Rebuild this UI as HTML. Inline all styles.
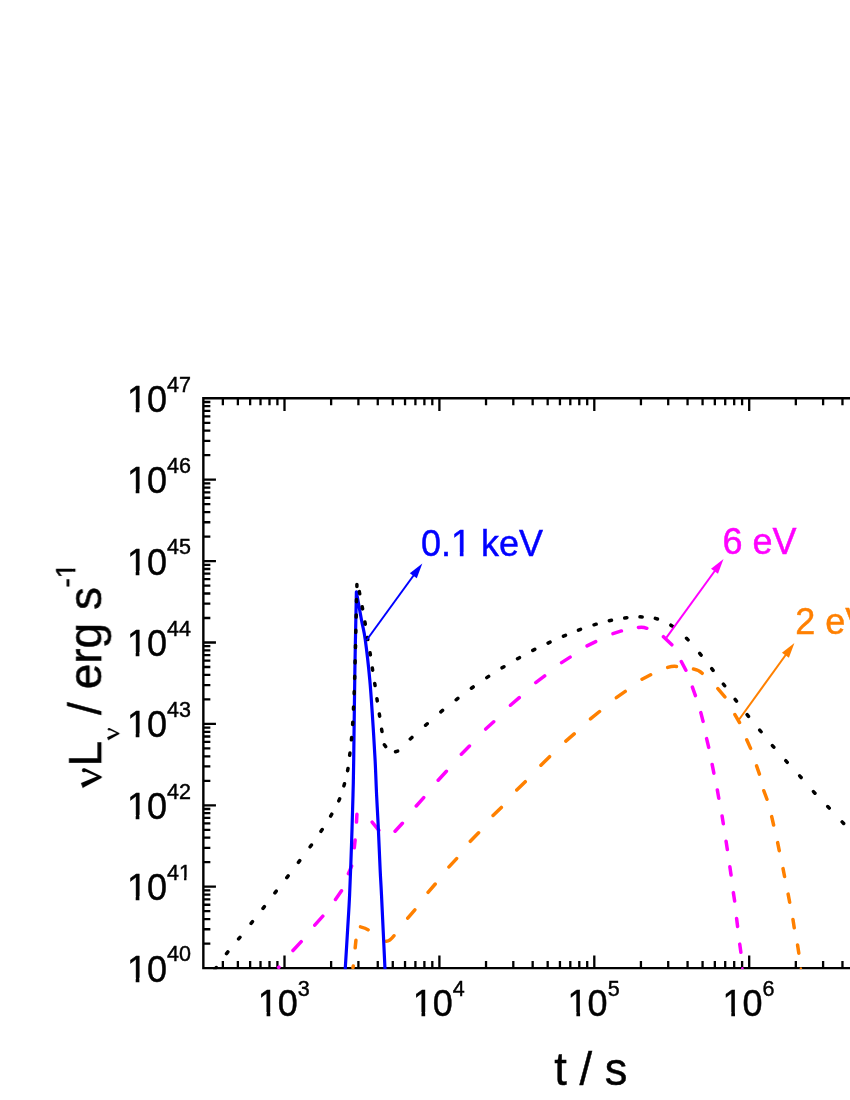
<!DOCTYPE html>
<html><head><meta charset="utf-8"><title>chart</title><style>html,body{margin:0;padding:0;background:#fff;width:850px;height:1100px;overflow:hidden}svg{display:block;position:absolute;left:0;top:0}</style></head><body>
<svg width="850" height="1100" viewBox="0 0 850 1100">
<rect width="850" height="1100" fill="#fff"/>
<g stroke="#000" fill="none" stroke-linecap="butt">
<path stroke-width="2.4" d="M202.15 398.3H855 M202.15 968.1H855 M203.35 397.1V969.3"/>
<path stroke-width="2.3" d="M222.86 968.1v-7M222.86 398.3v7M237.87 968.1v-7M237.87 398.3v7M250.14 968.1v-7M250.14 398.3v7M260.51 968.1v-7M260.51 398.3v7M269.49 968.1v-7M269.49 398.3v7M277.41 968.1v-7M277.41 398.3v7M284.5 968.1v-12.6M284.5 398.3v12.6M331.13 968.1v-7M331.13 398.3v7M358.41 968.1v-7M358.41 398.3v7M377.76 968.1v-7M377.76 398.3v7M392.77 968.1v-7M392.77 398.3v7M405.04 968.1v-7M405.04 398.3v7M415.41 968.1v-7M415.41 398.3v7M424.39 968.1v-7M424.39 398.3v7M432.31 968.1v-7M432.31 398.3v7M439.4 968.1v-12.6M439.4 398.3v12.6M486.03 968.1v-7M486.03 398.3v7M513.31 968.1v-7M513.31 398.3v7M532.66 968.1v-7M532.66 398.3v7M547.67 968.1v-7M547.67 398.3v7M559.94 968.1v-7M559.94 398.3v7M570.31 968.1v-7M570.31 398.3v7M579.29 968.1v-7M579.29 398.3v7M587.21 968.1v-7M587.21 398.3v7M594.3 968.1v-12.6M594.3 398.3v12.6M640.93 968.1v-7M640.93 398.3v7M668.21 968.1v-7M668.21 398.3v7M687.56 968.1v-7M687.56 398.3v7M702.57 968.1v-7M702.57 398.3v7M714.84 968.1v-7M714.84 398.3v7M725.21 968.1v-7M725.21 398.3v7M734.19 968.1v-7M734.19 398.3v7M742.11 968.1v-7M742.11 398.3v7M749.2 968.1v-12.6M749.2 398.3v12.6M795.83 968.1v-7M795.83 398.3v7M823.11 968.1v-7M823.11 398.3v7M842.46 968.1v-7M842.46 398.3v7M203.35 455.2h7M203.35 440.86h7M203.35 430.69h7M203.35 422.8h7M203.35 416.36h7M203.35 410.91h7M203.35 406.19h7M203.35 402.02h7M203.35 479.7h12.6M203.35 536.6h7M203.35 522.26h7M203.35 512.09h7M203.35 504.2h7M203.35 497.76h7M203.35 492.31h7M203.35 487.59h7M203.35 483.42h7M203.35 561.1h12.6M203.35 618h7M203.35 603.66h7M203.35 593.49h7M203.35 585.6h7M203.35 579.16h7M203.35 573.71h7M203.35 568.99h7M203.35 564.82h7M203.35 642.5h12.6M203.35 699.4h7M203.35 685.06h7M203.35 674.89h7M203.35 667h7M203.35 660.56h7M203.35 655.11h7M203.35 650.39h7M203.35 646.22h7M203.35 723.9h12.6M203.35 780.8h7M203.35 766.46h7M203.35 756.29h7M203.35 748.4h7M203.35 741.96h7M203.35 736.51h7M203.35 731.79h7M203.35 727.62h7M203.35 805.3h12.6M203.35 862.2h7M203.35 847.86h7M203.35 837.69h7M203.35 829.8h7M203.35 823.36h7M203.35 817.91h7M203.35 813.19h7M203.35 809.02h7M203.35 886.7h12.6M203.35 943.6h7M203.35 929.26h7M203.35 919.09h7M203.35 911.2h7M203.35 904.76h7M203.35 899.31h7M203.35 894.59h7M203.35 890.42h7"/>
</g>
<clipPath id="pc"><rect x="202.15" y="397.1" width="700" height="572.2"/></clipPath>
<g clip-path="url(#pc)">
<g stroke="#ff8000" stroke-width="3.5" fill="none" stroke-linecap="round">
<path d="M352.94 967.58L353.26 966.02M355.18 947.76L355.92 940.34M360.48 926.89Q365.69 928.05 368.14 929.8M386.16 941.24Q389.53 941.51 393.97 935.75M407.74 918.17L414.86 909.83M428.05 892.28L435.25 884.02M448.98 866.91L456.62 858.59M470.31 841.34L478.59 832.76M493.05 815.48L501.35 807.42M516.75 789.98L525.25 781.72M540.94 765.26L549.56 756.64M565.82 741.06L574.18 733.84M590.46 718.9L599.54 711.5M616.33 697.69L625.27 691.41M642.06 679.2L650.64 674.8M667.71 667.43Q672.72 665.89 676.45 666.4M693.47 669.02Q698.58 669.84 702.17 673.29M717.84 688.63L724.86 696.87M734.89 714.61L739.51 722.49M746.72 739.8L750.58 748.4M756.57 765.85L759.43 774.15M763.81 790.74L766.99 799.26M771.69 816.61L773.61 824.99M777.64 842.62L779.26 850.68M783.03 868.62L784.57 876.48M788.13 894.12L789.67 902.28M792.97 919.53L794.23 927.77M797.57 945.03L798.83 953.17"/>
</g>
<circle cx="800.9" cy="968.5" r="1.2" fill="#ff8000"/>
<g stroke="#ff00ff" stroke-width="3.5" fill="none" stroke-linecap="round">
<path d="M278.6 967.43L278.9 967.17M292.99 950.52L301.21 941.68M314.77 925.1L322.83 916.2M335.49 899.46L341.51 890.74M348.39 873.59L351.61 866.11M354.28 847.86L355.12 840.04M356.49 822.05L356.91 814.35M372.12 822.14L378.88 830.26M395.09 831.21L402.41 823.29M416.26 805.99L423.74 797.61M438.19 780.21L446.41 771.29M461.34 754.16L469.46 746.04M485.7 729.03L493.7 721.77M510.43 705.26L519.27 697.64M535.71 682.56L544.69 675.94M561.57 662.65L570.13 657.15M587.07 645.93L595.73 641.67M612.97 633.66L621.43 630.94M638.45 627.51Q642.78 626.7 646.8 628.29M663.46 636.71L671.84 644.79M681.31 661.55L685.89 670.25M692.39 687.15L695.41 695.65M700.83 712.6L703.07 721.4M706.6 738.6L708.7 747.4M712.14 764.42L713.86 773.18M717.31 789.92L718.79 798.28M722.08 815.93L723.32 823.77M726.07 841.33L727.33 849.57M729.85 866.83L731.05 874.97M733.36 892.63L734.64 900.97M736.61 918.44L737.59 926.46M739.74 944.13L740.86 952.27"/>
</g>
<circle cx="742.4" cy="968.2" r="1.2" fill="#ff00ff"/>
<path d="M345.2 969.3C345.6 962.75 346.87 942.38 347.6 930C348.33 917.62 348.95 909.17 349.6 895C350.25 880.83 350.93 861.67 351.5 845C352.07 828.33 352.63 809.17 353 795C353.37 780.83 353.38 781 353.7 760C354.02 739 354.45 697.03 354.9 669C355.35 640.97 356.15 604.67 356.4 591.8L356.4 591.8C357.25 596.5 360.02 611.97 361.5 620C362.98 628.03 363.92 630 365.3 640C366.68 650 368.57 666.67 369.8 680C371.03 693.33 371.82 706.67 372.7 720C373.58 733.33 374.45 747.5 375.1 760C375.75 772.5 376.08 784.08 376.6 795C377.12 805.92 377.6 812.85 378.2 825.5C378.8 838.15 379.65 859.32 380.2 870.9C380.75 882.48 380.7 878.6 381.5 895C382.3 911.4 384.42 956.92 385 969.3" stroke="#0000ff" stroke-width="3.2" fill="none" stroke-linejoin="round" stroke-linecap="butt"/>
<path d="M214.94 969.28L216.26 967.52M226.52 953.67L227.88 951.93M238.61 938.95L239.99 937.25M251.11 923.36L252.49 921.64M263.02 908.37L264.38 906.63M274.93 892.87L276.27 891.13M286.83 877.57L288.17 875.83M298.44 862.38L299.76 860.62M310.16 846.79L311.44 845.01M320.99 831.32L322.21 829.48M330.65 816.05L331.75 814.15M338.77 800.91L339.63 798.89M343.9 785.86L344.5 783.74M347.6 770.68L348 768.52M349.67 755.29L349.93 753.11M351.4 739.8L351.6 737.6M352.63 724.4L352.77 722.2M353.45 709.1L353.55 706.9M354.16 693.8L354.24 691.6M354.67 678.4L354.73 676.2M355.07 662.9L355.13 660.7M355.47 647.6L355.53 645.4M355.77 632.4L355.83 630.2M356.17 617.1L356.23 614.9M356.48 601.8L356.52 599.6M356.9 586.6L356.9 584.4M359.29 591.62L359.71 593.78M362.2 606.72L362.6 608.88M364.92 622.02L365.28 624.18M367.42 637.41L367.78 639.59M370.03 652.71L370.37 654.89M372.33 668.01L372.67 670.19M374.74 683.41L375.06 685.59M376.94 698.71L377.26 700.89M379.33 714.01L379.67 716.19M381.61 729.32L381.99 731.48M384.37 744.8L385.63 746.6M395.54 751.7L397.66 751.1M410.28 738.94L411.92 737.46M425.58 725.23L427.22 723.77M440.85 711.8L442.55 710.4M456.13 699.77L457.87 698.43M471.41 688.24L473.19 686.96M486.78 677.61L488.62 676.39M502.06 667.87L503.94 666.73M517.54 658.74L519.46 657.66M532.82 650.4L534.78 649.4M548.1 643.06L550.1 642.14M563.49 636.23L565.51 635.37M578.47 630.08L580.53 629.32M594.05 624.81L596.15 624.19M609.33 620.73L611.47 620.27M624.71 617.93L626.89 617.67M640 616.87L642.2 616.93M655.34 618.39L657.46 619.01M670.88 625.19L672.72 626.41M686.52 638.32L688.08 639.88M699.7 653.35L701.1 655.05M711.73 668.63L713.07 670.37M723.33 684.03L724.67 685.77M735.12 699.33L736.48 701.07M747.11 714.64L748.49 716.36M759.7 730.05L761.1 731.75M772.39 745.56L773.81 747.24M785.76 760.68L787.24 762.32M799.67 775.88L801.13 777.52M813.46 791.59L814.94 793.21M827.74 806.5L829.26 808.1M842.14 821.9L843.66 823.5M856.74 837.2L858.26 838.8" stroke="#000" stroke-width="3.5" fill="none" stroke-linecap="round"/>
</g>
<path d="M366.7 640L413.9 574.97" stroke="#0000ff" stroke-width="2" fill="none"/>
<path d="M422.3 563.4L416.79 578.31L409.83 573.26Z" fill="#0000ff"/>
<path d="M666.4 637.6L715.1 570.47" stroke="#ff00ff" stroke-width="2" fill="none"/>
<path d="M723.5 558.9L718 573.81L711.03 568.76Z" fill="#ff00ff"/>
<path d="M739.1 719.5L786.03 654.49" stroke="#ff8000" stroke-width="2" fill="none"/>
<path d="M794.4 642.9L788.93 657.82L781.96 652.79Z" fill="#ff8000"/>
<g font-family="'Liberation Sans', sans-serif" fill="#000" stroke="#000" stroke-width="0.45" opacity="0.999">
<text x="421" y="556.2" font-size="36" fill="#0000ff" stroke="#0000ff">0.1 keV</text>
<text x="722.5" y="554.3" font-size="36" fill="#ff00ff" stroke="#ff00ff">6 eV</text>
<text x="795.3" y="634.4" font-size="36" fill="#ff8000" stroke="#ff8000">2 eV</text>
<text x="126.9" y="411.7" font-size="36">10<tspan font-size="21.5" dy="-20.1">47</tspan></text>
<text x="126.9" y="493.1" font-size="36">10<tspan font-size="21.5" dy="-20.1">46</tspan></text>
<text x="126.9" y="574.5" font-size="36">10<tspan font-size="21.5" dy="-20.1">45</tspan></text>
<text x="126.9" y="655.9" font-size="36">10<tspan font-size="21.5" dy="-20.1">44</tspan></text>
<text x="126.9" y="737.3" font-size="36">10<tspan font-size="21.5" dy="-20.1">43</tspan></text>
<text x="126.9" y="818.7" font-size="36">10<tspan font-size="21.5" dy="-20.1">42</tspan></text>
<text x="126.9" y="900.1" font-size="36">10<tspan font-size="21.5" dy="-20.1">41</tspan></text>
<text x="126.9" y="981.5" font-size="36">10<tspan font-size="21.5" dy="-20.1">40</tspan></text>
<text x="257.8" y="1015.8" font-size="36">10<tspan font-size="21.5" dy="-19.9">3</tspan></text>
<text x="412.7" y="1015.8" font-size="36">10<tspan font-size="21.5" dy="-19.9">4</tspan></text>
<text x="567.6" y="1015.8" font-size="36">10<tspan font-size="21.5" dy="-19.9">5</tspan></text>
<text x="722.5" y="1015.8" font-size="36">10<tspan font-size="21.5" dy="-19.9">6</tspan></text>
<text x="554.3" y="1084.5" font-size="45.3">t / s</text>
<g fill="#fff" stroke="none"><rect x="128.14" y="407.91" width="7.56" height="5.89"/><rect x="139.38" y="407.91" width="7.28" height="5.89"/><rect x="128.14" y="489.31" width="7.56" height="5.89"/><rect x="139.38" y="489.31" width="7.28" height="5.89"/><rect x="128.14" y="570.71" width="7.56" height="5.89"/><rect x="139.38" y="570.71" width="7.28" height="5.89"/><rect x="128.14" y="652.11" width="7.56" height="5.89"/><rect x="139.38" y="652.11" width="7.28" height="5.89"/><rect x="128.14" y="733.51" width="7.56" height="5.89"/><rect x="139.38" y="733.51" width="7.28" height="5.89"/><rect x="128.14" y="814.91" width="7.56" height="5.89"/><rect x="139.38" y="814.91" width="7.28" height="5.89"/><rect x="128.14" y="896.31" width="7.56" height="5.89"/><rect x="139.38" y="896.31" width="7.28" height="5.89"/><rect x="179.04" y="877.29" width="5.02" height="4.81"/><rect x="186.46" y="877.29" width="4.85" height="4.81"/><rect x="128.14" y="977.71" width="7.56" height="5.89"/><rect x="139.38" y="977.71" width="7.28" height="5.89"/><rect x="259.04" y="1012.01" width="7.56" height="5.89"/><rect x="270.28" y="1012.01" width="7.28" height="5.89"/><rect x="413.94" y="1012.01" width="7.56" height="5.89"/><rect x="425.18" y="1012.01" width="7.28" height="5.89"/><rect x="568.84" y="1012.01" width="7.56" height="5.89"/><rect x="580.08" y="1012.01" width="7.28" height="5.89"/><rect x="723.74" y="1012.01" width="7.56" height="5.89"/><rect x="734.98" y="1012.01" width="7.28" height="5.89"/><rect x="452.26" y="552.41" width="7.56" height="5.89"/><rect x="463.51" y="552.41" width="7.28" height="5.89"/></g>
<g transform="translate(101.2,788) rotate(-90)">
<path stroke="none" transform="translate(-0.4,0.6) scale(1.05,1.03)" d="M0 -18L0.6 -18.5L5.1 -20.2L11.4 -4.8L16 -15.8A2 2 0 1 1 19.2 -16.6L11.4 0L10 0L1 -17.5Z"/>
<path stroke="none" transform="translate(47.5,18.2) scale(0.65,0.6)" d="M0 -18L0.6 -18.5L5.1 -20.2L11.4 -4.8L16 -15.8A2 2 0 1 1 19.2 -16.6L11.4 0L10 0L1 -17.5Z"/>
<text x="21.6" y="0" font-size="46">L</text>
<text x="73.1" y="0" font-size="46">/ erg s<tspan font-size="28" dy="-25.9" dx="-0.5">-</tspan></text>
<text x="209.5" y="-25.9" font-size="28">1</text>
<g fill="#fff" stroke="none"><rect x="210.13" y="-29.09" width="6.16" height="5.29"/><rect x="219.27" y="-29.09" width="5.94" height="5.29"/></g>
</g>
</g>
</svg>
</body></html>
